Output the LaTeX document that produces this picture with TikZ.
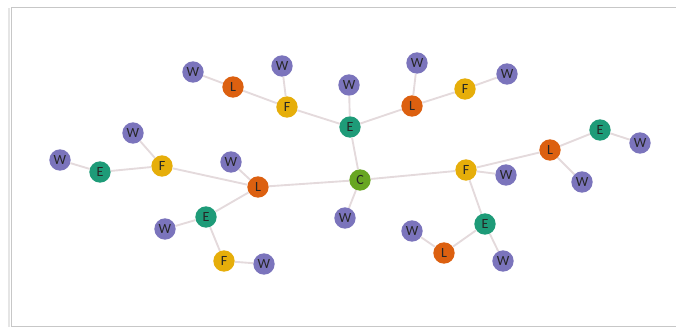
\documentclass[tikz,border=0pt]{standalone}
\usepackage{fontspec}
\setmainfont{Carlito}
\usepackage{xcolor}
\usetikzlibrary{positioning}

\definecolor{wcol}{HTML}{7B74BC}
\definecolor{lcol}{HTML}{DC6010}
\definecolor{fcol}{HTML}{E6AE0A}
\definecolor{ecol}{HTML}{1E9B78}
\definecolor{ccol}{HTML}{68A621}
\definecolor{linkcol}{HTML}{E4DADC}

\begin{document}
\begin{tikzpicture}[
    x=0.03cm, y=-0.03cm,
    font=\large,
    atom/.style={circle, minimum size=0.64cm, inner sep=0pt, text=black!85},
    wnode/.style={atom, fill=wcol},
    lnode/.style={atom, fill=lcol},
    fnode/.style={atom, fill=fcol},
    enode/.style={atom, fill=ecol},
    cnode/.style={atom, fill=ccol},
    link/.style={draw=linkcol, line width=1.6pt}
]
\useasboundingbox (0,0) rectangle (676,329);
% frame
\draw[black!10, line width=2.5pt] (9,8) -- (9,327);
\draw[black!22, line width=0.8pt] (11,326) -- (11,7) -- (690,7);
\draw[black!22, line width=0.8pt] (11,326) -- (690,326);

% centre and top branch
\node[cnode] (c) at (360,180) {C};
\node[enode] (eTop) at (350,127) {E};
\node[wnode] (wETop) at (349,85) {W};
\node[fnode] (fTl) at (287,107) {F};
\node[wnode] (wFTl) at (282,66) {W};
\node[lnode] (lTl) at (233,87) {L};
\node[wnode] (wLTl) at (193,72) {W};
\node[lnode] (lTr) at (412,106) {L};
\node[wnode] (wLTr) at (417,63) {W};
\node[fnode] (fTr) at (465,89) {F};
\node[wnode] (wFTr) at (507,74) {W};
\node[wnode] (wC) at (345,218) {W};

% left branch
\node[lnode] (lLeft) at (258,187) {L};
\node[wnode] (wLLeft) at (231,162) {W};
\node[fnode] (fLeft) at (162,166) {F};
\node[wnode] (wFLeft) at (133,133) {W};
\node[enode] (eFar) at (100,172) {E};
\node[wnode] (wEFar) at (60,160) {W};
\node[enode] (eLow) at (206,217) {E};
\node[wnode] (wELow) at (165,229) {W};
\node[fnode] (fLow) at (224,261) {F};
\node[wnode] (wFLow) at (264,264) {W};

% right branch
\node[fnode] (fRight) at (466,170) {F};
\node[wnode] (wFRight) at (506,175) {W};
\node[lnode] (lRight) at (550,150) {L};
\node[enode] (eRight) at (600,130) {E};
\node[wnode] (wERight) at (640,143) {W};
\node[wnode] (wLRight) at (582,182) {W};
\node[enode] (eLr) at (485,224) {E};
\node[wnode] (wELr) at (503,261) {W};
\node[lnode] (lLr) at (444,253) {L};
\node[wnode] (wLLr) at (412,231) {W};

\draw[link] (c) -- (eTop);
\draw[link] (c) -- (lLeft);
\draw[link] (c) -- (fRight);
\draw[link] (c) -- (wC);
\draw[link] (eTop) -- (wETop);
\draw[link] (eTop) -- (fTl);
\draw[link] (eTop) -- (lTr);
\draw[link] (fTl) -- (wFTl);
\draw[link] (fTl) -- (lTl);
\draw[link] (lTl) -- (wLTl);
\draw[link] (lTr) -- (wLTr);
\draw[link] (lTr) -- (fTr);
\draw[link] (fTr) -- (wFTr);
\draw[link] (lLeft) -- (wLLeft);
\draw[link] (lLeft) -- (fLeft);
\draw[link] (lLeft) -- (eLow);
\draw[link] (fLeft) -- (wFLeft);
\draw[link] (fLeft) -- (eFar);
\draw[link] (eFar) -- (wEFar);
\draw[link] (eLow) -- (wELow);
\draw[link] (eLow) -- (fLow);
\draw[link] (fLow) -- (wFLow);
\draw[link] (fRight) -- (wFRight);
\draw[link] (fRight) -- (lRight);
\draw[link] (fRight) -- (eLr);
\draw[link] (lRight) -- (eRight);
\draw[link] (lRight) -- (wLRight);
\draw[link] (eRight) -- (wERight);
\draw[link] (eLr) -- (wELr);
\draw[link] (eLr) -- (lLr);
\draw[link] (lLr) -- (wLLr);
\end{tikzpicture}
\end{document}
